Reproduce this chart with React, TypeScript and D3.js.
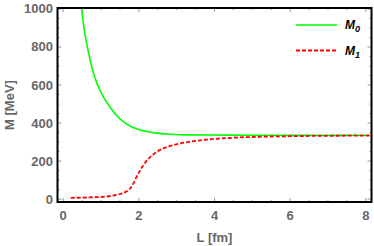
import * as d3 from 'd3';
import { useEffect, useRef } from 'react';

// M0 (green, solid)
const m0L = [0.45, 0.49, 0.55, 0.64, 0.75, 0.89, 0.98, 1.1, 1.24, 1.4, 1.59, 1.8, 2.03, 2.25, 2.47, 2.8, 3.2, 3.9, 5.0, 6.0, 8.1];
const m0M = [1090, 1000, 900, 800, 700, 610, 570, 525, 484, 442, 407, 381, 364, 354, 347, 341, 338, 337, 336, 336, 336];

// M1 (red, dashed)
const m1L = [0.2, 0.5, 0.8, 1.1, 1.3, 1.5, 1.65, 1.77, 1.86, 1.94, 2.03, 2.12, 2.25, 2.47, 2.7, 2.91, 3.1, 3.35, 3.62, 3.84, 4.32, 5.2, 6.0, 7.0, 8.1];
const m1M = [7, 8, 10, 13, 18, 27, 38, 56, 84, 117, 150, 178, 211, 248, 271, 284, 293, 302, 309, 314, 321, 328, 331, 333, 334];

const xTicks = [0, 2, 4, 6, 8];
const yTicks = [0, 200, 400, 600, 800, 1000];

const seriesNames = ['M', 'M'];
const seriesSubs = ['0', '1'];
const seriesColors = ['#00ff00', '#ff0000'];

export default function App() {
  const ref = useRef<SVGSVGElement>(null);

  useEffect(() => {
    const svg = d3.select(ref.current);
    svg.selectAll('*').remove();

    const width = 374;
    const height = 246;
    const x = d3.scaleLinear().domain([-0.15, 8.15]).range([57.5, 371.5]);
    const y = d3.scaleLinear().domain([-15, 1005]).range([202, 8]);
    const font = '"Liberation Sans", Arial, sans-serif';
    const gray = '#666666';

    svg.attr('width', width).attr('height', height);

    svg.append('defs')
      .append('clipPath')
      .attr('id', 'plot-clip')
      .append('rect')
      .attr('x', x.range()[0])
      .attr('y', y.range()[1])
      .attr('width', x.range()[1] - x.range()[0])
      .attr('height', y.range()[0] - y.range()[1]);

    // minor + major ticks on all four sides, inward
    const tickG = svg.append('g').attr('stroke', '#999').attr('stroke-width', 1);
    const xMinor = d3.range(0, 8.01, 0.5);
    const yMinor = d3.range(0, 1000.1, 50);
    xMinor.forEach((v) => {
      const len = xTicks.includes(v) ? 4 : 2;
      tickG.append('line').attr('x1', x(v)).attr('x2', x(v)).attr('y1', y.range()[0]).attr('y2', y.range()[0] - len);
      tickG.append('line').attr('x1', x(v)).attr('x2', x(v)).attr('y1', y.range()[1]).attr('y2', y.range()[1] + len);
    });
    yMinor.forEach((v) => {
      const len = yTicks.includes(v) ? 4 : 2;
      tickG.append('line').attr('y1', y(v)).attr('y2', y(v)).attr('x1', x.range()[0]).attr('x2', x.range()[0] + len);
      tickG.append('line').attr('y1', y(v)).attr('y2', y(v)).attr('x1', x.range()[1]).attr('x2', x.range()[1] - len);
    });

    const line = d3.line<[number, number]>()
      .x((d) => x(d[0]))
      .y((d) => y(d[1]))
      .curve(d3.curveMonotoneX);

    const plot = svg.append('g').attr('clip-path', 'url(#plot-clip)');
    plot.append('path')
      .datum(m0L.map((l, i) => [l, m0M[i]] as [number, number]))
      .attr('d', line)
      .attr('fill', 'none')
      .attr('stroke', seriesColors[0])
      .attr('stroke-width', 1.6);
    plot.append('path')
      .datum(m1L.map((l, i) => [l, m1M[i]] as [number, number]))
      .attr('d', line)
      .attr('fill', 'none')
      .attr('stroke', seriesColors[1])
      .attr('stroke-width', 1.8)
      .attr('stroke-dasharray', '4,2');

    // frame
    svg.append('rect')
      .attr('x', x.range()[0])
      .attr('y', y.range()[1])
      .attr('width', x.range()[1] - x.range()[0])
      .attr('height', y.range()[0] - y.range()[1])
      .attr('fill', 'none')
      .attr('stroke', '#000')
      .attr('stroke-width', 2);

    svg.append('g')
      .selectAll('text')
      .data(yTicks)
      .join('text')
      .attr('x', 53)
      .attr('y', (d) => y(d) + 4.5)
      .attr('text-anchor', 'end')
      .attr('fill', gray)
      .style('font', `bold 13px ${font}`)
      .text((d) => d);

    svg.append('g')
      .selectAll('text')
      .data(xTicks)
      .join('text')
      .attr('x', (d) => x(d))
      .attr('y', 220)
      .attr('text-anchor', 'middle')
      .attr('fill', gray)
      .style('font', `bold 13px ${font}`)
      .text((d) => d);

    svg.append('text')
      .attr('x', x(4))
      .attr('y', 242)
      .attr('text-anchor', 'middle')
      .attr('fill', gray)
      .style('font', `bold 13px ${font}`)
      .text('L [fm]');

    svg.append('text')
      .attr('transform', 'translate(14,105) rotate(-90)')
      .attr('text-anchor', 'middle')
      .attr('fill', gray)
      .style('font', `bold 13px ${font}`)
      .text('M [MeV]');

    // legend
    const legend = svg.append('g');
    [0, 1].forEach((i) => {
      const ly = 25 + i * 25.5;
      legend.append('line')
        .attr('x1', 296)
        .attr('x2', 337)
        .attr('y1', ly)
        .attr('y2', ly)
        .attr('stroke', seriesColors[i])
        .attr('stroke-width', i === 0 ? 1.6 : 1.8)
        .attr('stroke-dasharray', i === 0 ? null : '4,2');
      const t = legend.append('text')
        .attr('x', 345)
        .attr('y', ly + 4)
        .attr('fill', '#000')
        .style('font', `italic bold 12px ${font}`);
      t.append('tspan').text(seriesNames[i]);
      t.append('tspan').attr('dy', 3).style('font-size', '9px').text(seriesSubs[i]);
    });
  }, []);

  return <svg ref={ref} style={{ position: 'absolute', left: 0, top: 0 }} />;
}
